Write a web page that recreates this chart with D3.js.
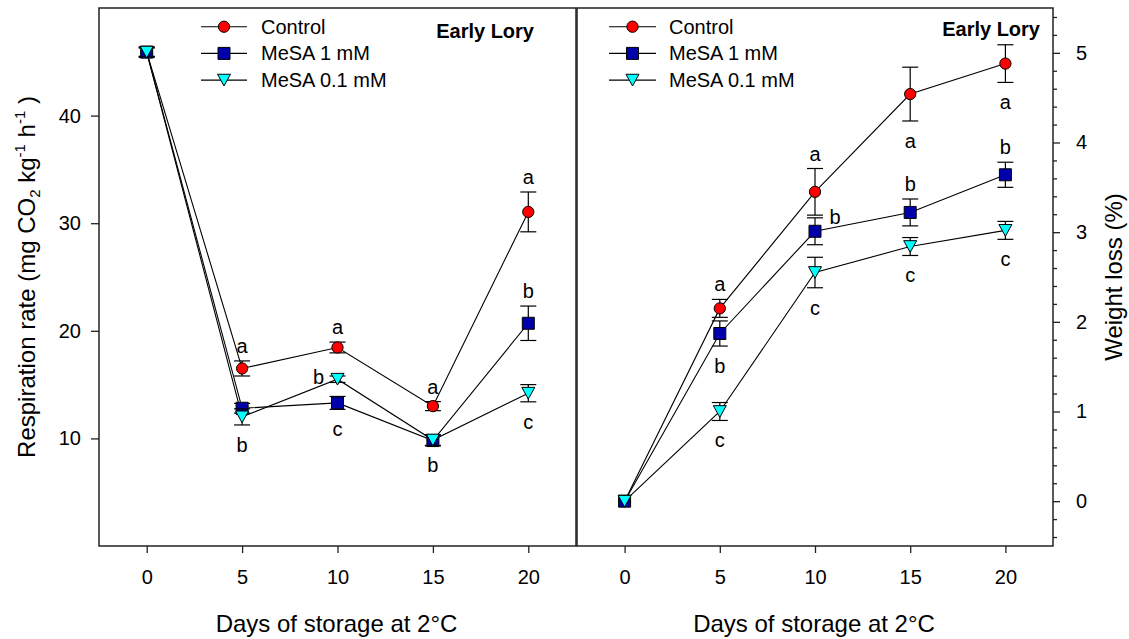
<!DOCTYPE html>
<html>
<head>
<meta charset="utf-8">
<script src="https://cdn.jsdelivr.net/npm/d3@7"></script>
<style>
body { margin: 0; background: #fff; }
svg { font-family: Arial, "Liberation Sans", sans-serif; }
</style>
</head>
<body>
<div id="grafico"></div>
<script>
// datos
var dias = [0, 5, 10, 15, 20];
var diasTicks = [0, 5, 10, 15, 20];
var series = ["Control", "MeSA 1 mM", "MeSA 0.1 mM"];

// tasa de respiracion (mg CO2 kg-1 h-1)
var respControl = [45.9, 16.5, 18.45, 13.0, 31.05];
var respControlErr = [0.4, 0.7, 0.5, 0.42, 1.85];
var respMesa1 = [45.9, 12.8, 13.3, 9.8, 20.7];
var respMesa1Err = [0.5, 0.45, 0.6, 0.5, 1.6];
var respMesa01 = [45.9, 12.0, 15.5, 9.85, 14.2];
var respMesa01Err = [0.4, 0.75, 0.3, 0.5, 0.8];
var respTicks = [10, 20, 30, 40];
var respLetras = [["", "a", "a", "a", "a"], ["", "", "c", "", "b"], ["", "b", "b", "b", "c"]];
var respLado = [["", "up", "up", "up", "up"], ["", "", "down", "", "up"], ["", "down", "left", "down", "down"]];

// perdida de peso (%)
var pesoControl = [0, 2.15, 3.45, 4.54, 4.88];
var pesoControlErr = [0, 0.1, 0.26, 0.3, 0.21];
var pesoMesa1 = [0, 1.87, 3.01, 3.22, 3.64];
var pesoMesa1Err = [0, 0.14, 0.15, 0.15, 0.14];
var pesoMesa01 = [0, 1.0, 2.55, 2.84, 3.02];
var pesoMesa01Err = [0, 0.1, 0.17, 0.1, 0.1];
var pesoTicks = [0, 1, 2, 3, 4, 5];
var pesoLetras = [["", "a", "a", "a", "a"], ["", "b", "b", "b", "b"], ["", "c", "c", "c", "c"]];
var pesoLado = [["", "up", "up", "down", "down"], ["", "down", "right", "up", "up"], ["", "down", "down", "down", "down"]];

var arriba = 8;
var abajo = 546;
var colores = ["#ff0000", "#0000aa", "#00ffff"];

// triangulo hacia abajo centrado en su caja
var trianguloAbajo = {
    draw: function (ctx, size) {
        var w = Math.sqrt(size);
        ctx.moveTo(-w / 2, -w * 0.45);
        ctx.lineTo(w / 2, -w * 0.45);
        ctx.lineTo(0, w * 0.45);
        ctx.closePath();
    }
};
var simbolos = [
    d3.symbol().type(d3.symbolCircle).size(100),
    d3.symbol().type(d3.symbolSquare).size(144),
    d3.symbol().type(trianguloAbajo).size(169)
];

var svg = d3.select("#grafico").append("svg")
    .attr("width", 1129)
    .attr("height", 639);

function juntar(valores, errores) {
    return dias.map(function (d, i) { return {dia: d, v: valores[i], e: errores[i]}; });
}

function estiloEje(g) {
    g.select(".domain").remove();
    g.selectAll("line").attr("stroke", "#222").attr("stroke-width", 1.3);
    g.selectAll("text").attr("fill", "#000").style("font-size", "20px")
        .style("font-family", "Arial, 'Liberation Sans', sans-serif");
}

function panel(cfg) {
    var x = d3.scaleLinear().domain([-2.5, 22.5]).range([cfg.izq, cfg.der]);
    var y = d3.scaleLinear().domain(cfg.dominio).range([abajo, arriba]);
    var g = svg.append("g");

    // eje x
    g.append("g")
        .attr("transform", "translate(0," + abajo + ")")
        .call(d3.axisBottom(x).tickValues(diasTicks).tickSize(7).tickPadding(17))
        .call(estiloEje);

    // eje y
    if (cfg.ladoY == "izq") {
        g.append("g")
            .attr("transform", "translate(" + cfg.izq + ",0)")
            .call(d3.axisLeft(y).tickValues(cfg.ticks).tickSize(8).tickPadding(10).tickFormat(d3.format("d")))
            .call(estiloEje);
    } else {
        var menores = d3.range(cfg.dominio[0] + 0.1, cfg.dominio[1], 0.2)
            .map(function (v) { return Math.round(v * 10) / 10; })
            .filter(function (v) { return Math.abs(v - Math.round(v)) > 0.01; });
        g.append("g")
            .attr("transform", "translate(" + cfg.der + ",0)")
            .call(d3.axisRight(y).tickValues(menores).tickSize(4).tickFormat(""))
            .call(estiloEje);
        g.append("g")
            .attr("transform", "translate(" + cfg.der + ",0)")
            .call(d3.axisRight(y).tickValues(cfg.ticks).tickSize(7).tickPadding(16).tickFormat(d3.format("d")))
            .call(estiloEje);
    }

    // marco
    g.append("rect")
        .attr("x", cfg.izq).attr("y", arriba)
        .attr("width", cfg.der - cfg.izq).attr("height", abajo - arriba)
        .attr("fill", "none").attr("stroke", "#222").attr("stroke-width", 1.5);

    var linea = d3.line()
        .x(function (d) { return x(d.dia); })
        .y(function (d) { return y(d.v); });

    cfg.datos.forEach(function (serie) {
        g.append("path").datum(serie)
            .attr("d", linea)
            .attr("fill", "none").attr("stroke", "#000").attr("stroke-width", 1.1);
    });

    cfg.datos.forEach(function (serie, s) {
        var err = g.append("g").selectAll("g")
            .data(serie.filter(function (d) { return d.e > 0; }))
            .enter().append("g")
            .attr("stroke", "#000").attr("stroke-width", 1.2);
        err.append("line")
            .attr("x1", function (d) { return x(d.dia); })
            .attr("x2", function (d) { return x(d.dia); })
            .attr("y1", function (d) { return y(d.v - d.e); })
            .attr("y2", function (d) { return y(d.v + d.e); });
        [-1, 1].forEach(function (signo) {
            err.append("line")
                .attr("x1", function (d) { return x(d.dia) - 8; })
                .attr("x2", function (d) { return x(d.dia) + 8; })
                .attr("y1", function (d) { return y(d.v + signo * d.e); })
                .attr("y2", function (d) { return y(d.v + signo * d.e); });
        });

        g.append("g").selectAll("path")
            .data(serie)
            .enter().append("path")
            .attr("d", simbolos[s])
            .attr("transform", function (d) { return "translate(" + x(d.dia) + "," + y(d.v) + ")"; })
            .attr("fill", colores[s]).attr("stroke", "#000").attr("stroke-width", 1);
    });

    // letras de significancia
    cfg.datos.forEach(function (serie, s) {
        serie.forEach(function (d, i) {
            var letra = cfg.letras[s][i];
            if (!letra) return;
            var lado = cfg.lados[s][i];
            var px = x(d.dia), py;
            if (lado == "up") py = y(d.v + d.e) - 15;
            else if (lado == "down") py = y(d.v - d.e) + 20;
            else if (lado == "left") { px = px - 19; py = y(d.v) - 2; }
            else { px = px + 20; py = y(d.v) - 14; }
            g.append("text")
                .attr("x", px).attr("y", py).attr("dy", "0.35em")
                .attr("text-anchor", "middle")
                .style("font-size", "20px")
                .text(letra);
        });
    });

    // leyenda
    series.forEach(function (nombre, s) {
        var ly = 26.7 + s * 26.7;
        g.append("line")
            .attr("x1", cfg.leyenda[0]).attr("x2", cfg.leyenda[1])
            .attr("y1", ly).attr("y2", ly)
            .attr("stroke", "#000").attr("stroke-width", 1.1);
        g.append("path")
            .attr("d", simbolos[s])
            .attr("transform", "translate(" + (cfg.leyenda[0] + cfg.leyenda[1]) / 2 + "," + ly + ")")
            .attr("fill", colores[s]).attr("stroke", "#000").attr("stroke-width", 1);
        g.append("text")
            .attr("x", cfg.leyenda[2]).attr("y", ly).attr("dy", "0.35em")
            .style("font-size", "20px")
            .text(nombre);
    });

    g.append("text")
        .attr("x", cfg.titulo[0]).attr("y", cfg.titulo[1]).attr("dy", "0.35em")
        .attr("text-anchor", "end")
        .style("font-size", "20px").style("font-weight", "bold")
        .text("Early Lory");

    // titulo eje x
    g.append("text")
        .attr("x", (cfg.izq + cfg.der) / 2 - 1).attr("y", 632)
        .attr("text-anchor", "middle")
        .style("font-size", "24px")
        .text("Days of storage at 2°C");
}

panel({
    izq: 99, der: 576, dominio: [0, 50], ticks: respTicks, ladoY: "izq",
    datos: [juntar(respControl, respControlErr), juntar(respMesa1, respMesa1Err), juntar(respMesa01, respMesa01Err)],
    letras: respLetras, lados: respLado,
    leyenda: [201, 247, 261], titulo: [534, 31]
});

panel({
    izq: 577, der: 1053, dominio: [-0.5, 5.5], ticks: pesoTicks, ladoY: "der",
    datos: [juntar(pesoControl, pesoControlErr), juntar(pesoMesa1, pesoMesa1Err), juntar(pesoMesa01, pesoMesa01Err)],
    letras: pesoLetras, lados: pesoLado,
    leyenda: [609, 656, 669], titulo: [1040, 29]
});

// titulos de ejes y
var ty = svg.append("text")
    .attr("transform", "translate(35,277) rotate(-90)")
    .attr("text-anchor", "middle")
    .style("font-size", "24px");
ty.append("tspan").text("Respiration rate (mg CO");
ty.append("tspan").attr("dy", 5).style("font-size", "15px").text("2");
ty.append("tspan").attr("dy", -5).text(" kg");
ty.append("tspan").attr("dy", -10).style("font-size", "15px").text("-1");
ty.append("tspan").attr("dy", 10).text(" h");
ty.append("tspan").attr("dy", -10).style("font-size", "15px").text("-1");
ty.append("tspan").attr("dy", 10).text(" )");

svg.append("text")
    .attr("transform", "translate(1122,277) rotate(-90)")
    .attr("text-anchor", "middle")
    .style("font-size", "24px")
    .text("Weight loss (%)");
</script>
</body>
</html>
